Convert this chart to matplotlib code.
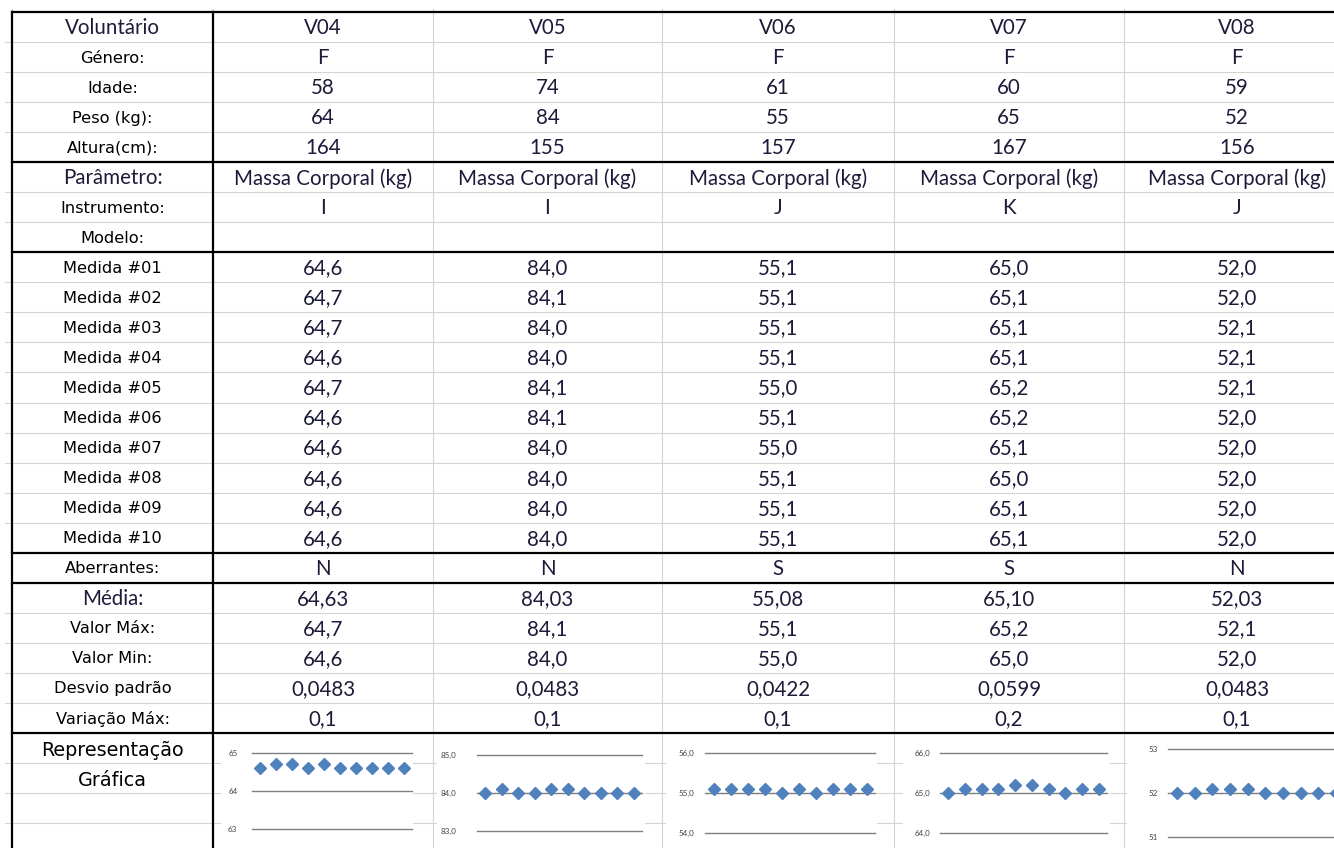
import numpy as np
import matplotlib.pyplot as plt
from matplotlib.patches import Rectangle
from matplotlib.ticker import FuncFormatter

# ---- data read from the sheet ----
voluntarios = ["V04", "V05", "V06", "V07", "V08"]
genero = ["F", "F", "F", "F", "F"]
idade = [58, 74, 61, 60, 59]
peso = [64, 84, 55, 65, 52]
altura = [164, 155, 157, 167, 156]
parametro = ["Massa Corporal (kg)"] * 5
instrumento = ["I", "I", "J", "K", "J"]
modelo = ["", "", "", "", ""]

medidas_v04 = [64.6, 64.7, 64.7, 64.6, 64.7, 64.6, 64.6, 64.6, 64.6, 64.6]
medidas_v05 = [84.0, 84.1, 84.0, 84.0, 84.1, 84.1, 84.0, 84.0, 84.0, 84.0]
medidas_v06 = [55.1, 55.1, 55.1, 55.1, 55.0, 55.1, 55.0, 55.1, 55.1, 55.1]
medidas_v07 = [65.0, 65.1, 65.1, 65.1, 65.2, 65.2, 65.1, 65.0, 65.1, 65.1]
medidas_v08 = [52.0, 52.0, 52.1, 52.1, 52.1, 52.0, 52.0, 52.0, 52.0, 52.0]
medidas = [medidas_v04, medidas_v05, medidas_v06, medidas_v07, medidas_v08]

aberrantes = ["N", "N", "S", "S", "N"]
media = [64.63, 84.03, 55.08, 65.10, 52.03]
valor_max = [64.7, 84.1, 55.1, 65.2, 52.1]
valor_min = [64.6, 84.0, 55.0, 65.0, 52.0]
desvio = [0.0483, 0.0483, 0.0422, 0.0599, 0.0483]
variacao = [0.1, 0.1, 0.1, 0.2, 0.1]

# y range / ticks of each small chart
chart_ticks = [[63, 64, 65], [83, 84, 85], [54, 55, 56], [64, 65, 66], [51, 52, 53]]
chart_fmt = ["{:.0f}", "{:.1f}", "{:.1f}", "{:.1f}", "{:.0f}"]

row_labels = (["Voluntário", "Género:", "Idade:", "Peso (kg):", "Altura(cm):",
               "Parâmetro:", "Instrumento:", "Modelo:"]
              + ["Medida #%02d" % (i + 1) for i in range(10)]
              + ["Aberrantes:", "Média:", "Valor Máx:", "Valor Min:",
                 "Desvio padrão", "Variação Máx:"])
calibri_labels = {"Voluntário", "Parâmetro:", "Média:"}


def br(v, nd):
    return f"{v:.{nd}f}".replace(".", ",")


# ---- layout (pixels) ----
W, H = 1334, 848
fig = plt.figure(figsize=(W / 100, H / 100), dpi=100)
ax = fig.add_axes([0, 0, 1, 1])
ax.set_xlim(0, W)
ax.set_ylim(H, 0)
ax.axis("off")

top, rh = 12, 30.04
ys = [top + rh * i for i in range(25)]
col_x = [12, 213, 433, 662, 894, 1124, 1350]
thick_rows = [0, 5, 8, 18, 19, 24]
grid_c = "#d4d4d4"

# spreadsheet gridlines
for i, y in enumerate(ys + [ys[-1] + rh, ys[-1] + 2 * rh, ys[-1] + 3 * rh]):
    if i not in thick_rows:
        ax.plot([5, W], [y, y], color=grid_c, lw=0.8, zorder=1)
for x in col_x[2:-1]:
    ax.plot([x, x], [9, H], color=grid_c, lw=0.8, zorder=3)
for x in col_x[:2]:
    ax.plot([x, x], [9, top], color=grid_c, lw=0.8, zorder=1)

# white areas behind the charts
chart_bg = [(221, 413), (437, 645), (666, 877), (903, 1110), (1127, 1340)]
for x0, x1 in chart_bg:
    ax.add_patch(Rectangle((x0, ys[-1] + 2), x1 - x0, H - ys[-1], facecolor="white",
                           edgecolor="none", zorder=2))

# thick borders
for i in thick_rows:
    ax.plot([col_x[0], W], [ys[i], ys[i]], color="black", lw=1.6, zorder=4)
for x in col_x[:2]:
    ax.plot([x, x], [top, H], color="black", lw=1.6, zorder=4)

# ---- text ----
cell_cols = []
for k in range(5):
    col = [voluntarios[k], genero[k], str(idade[k]), str(peso[k]), str(altura[k]),
           parametro[k], instrumento[k], modelo[k]]
    col += [br(v, 1) for v in medidas[k]]
    col += [aberrantes[k], br(media[k], 2), br(valor_max[k], 1), br(valor_min[k], 1),
            br(desvio[k], 4), br(variacao[k], 1)]
    cell_cols.append(col)

val_font = dict(family="Lato", fontsize=14.8, color="#1c1c3a")
lab_font = dict(family="DejaVu Sans", fontsize=11.7, color="black")

for r, lab in enumerate(row_labels):
    yc = ys[r] + rh / 2 + 1
    style = val_font if lab in calibri_labels else lab_font
    ax.text((col_x[0] + col_x[1]) / 2, yc, lab, ha="center", va="center", zorder=5, **style)
    for k in range(5):
        xc = (col_x[k + 1] + col_x[k + 2]) / 2
        ax.text(xc, yc, cell_cols[k][r], ha="center", va="center", zorder=5, **val_font)

ax.text((col_x[0] + col_x[1]) / 2, 750, "Representação", ha="center", va="center",
        family="DejaVu Sans", fontsize=13.8, color="black", zorder=5)
ax.text((col_x[0] + col_x[1]) / 2, 781, "Gráfica", ha="center", va="center",
        family="DejaVu Sans", fontsize=13.8, color="black", zorder=5)

# ---- small charts ----
# (line x start, line x end, pixel y of top tick, pixel y of bottom tick, label pad pt)
chart_box = [(252, 412, 753, 829, 10.5), (477, 642, 755, 831, 15.0),
             (705, 875, 753, 833, 8.0), (940, 1107, 753, 833, 6.8),
             (1168, 1345, 749, 837, 7.6)]
x_idx = np.arange(1, 11)
for k in range(5):
    x0, x1, yt, yb, pad = chart_box[k]
    cax = fig.add_axes([x0 / W, 1 - yb / H, (x1 - x0) / W, (yb - yt) / H])
    cax.patch.set_alpha(0)
    ticks = chart_ticks[k]
    cax.set_ylim(ticks[0], ticks[-1])
    cax.set_xlim(0.5, 10.5)
    for t in ticks:
        cax.axhline(t, color="#7f7f7f", lw=1.0, zorder=1, clip_on=False)
    cax.plot(x_idx, medidas[k], "D", ms=6.0, color="#4F81BD", clip_on=False, zorder=3)
    cax.set_yticks(ticks)
    fmt = chart_fmt[k]
    cax.yaxis.set_major_formatter(FuncFormatter(lambda v, p, f=fmt: f.format(v).replace(".", ",")))
    cax.set_xticks([])
    cax.tick_params(axis="y", length=0, pad=pad, labelsize=5.8, labelcolor="#404040")
    for t in cax.get_yticklabels():
        t.set_family("Lato")
    for s in cax.spines.values():
        s.set_visible(False)

fig.savefig("out.png", dpi=100)
